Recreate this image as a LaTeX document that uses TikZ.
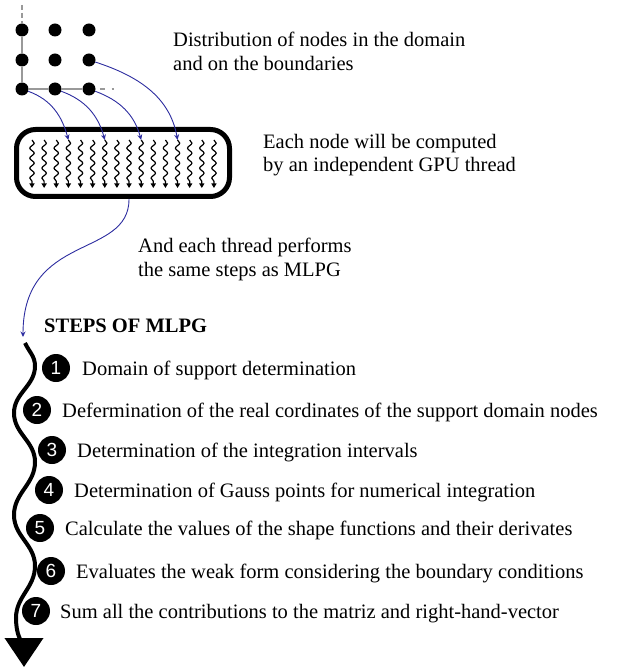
\documentclass[tikz,border=0pt]{standalone}
\usepackage{fontspec}
\setmainfont{Liberation Serif}
\newfontfamily\numfont{Liberation Sans}
\usetikzlibrary{arrows.meta, decorations.pathmorphing, positioning}
\definecolor{linkblue}{RGB}{45,45,160}

\begin{document}
\begin{tikzpicture}[x=1pt, y=1pt, >={Stealth[length=5.5pt,width=5pt]}]
\tikzstyle{grid dot}=[circle, fill=black, inner sep=0pt, minimum size=13pt];
\tikzstyle{grid line}=[draw=black!40, line width=2.5pt];
\tikzstyle{link}=[->, draw=linkblue, fill=none, line width=0.9pt];
\tikzstyle{thread}=[line width=1.2pt, decorate, decoration={snake, amplitude=2.2pt, segment length=10pt, post length=5pt}, -{Triangle[length=4.5pt,width=5pt]}];
\tikzstyle{flow}=[line width=4pt, -{Triangle[length=29pt,width=38pt]}];
\tikzstyle{note}=[anchor=north west, inner sep=0pt, align=left, font=\fontsize{20.5}{23.5}\selectfont];
\tikzstyle{stepnum}=[circle, fill=black, text=white, inner sep=0pt, minimum size=28pt, font=\numfont\fontsize{19}{19}\selectfont];
\tikzstyle{steptext}=[anchor=base west, inner sep=0pt, font=\fontsize{20.5}{24}\selectfont];
\useasboundingbox (0,0) rectangle (617,-668);

% nodes of the domain
\node[grid dot] (d11) at (22,-30) {};
\node[grid dot] (d12) at (55,-30) {};
\node[grid dot] (d13) at (89,-30) {};
\node[grid dot] (d21) at (22,-60) {};
\node[grid dot] (d22) at (55,-60) {};
\node[grid dot] (d23) at (89,-60) {};
\node[grid dot] (d31) at (22,-89) {};
\node[grid dot] (d32) at (55,-89) {};
\node[grid dot] (d33) at (89,-89) {};
\coordinate (ytop) at (22,-5);
\coordinate (xend) at (114,-89);
\draw[grid line, dash pattern=on 5pt off 3pt] (ytop) -- (d11);
\draw[grid line] (d11) -- (d21) -- (d31) -- (d32) -- (d33);
\draw[grid line, dash pattern=on 0pt off 4pt on 5pt off 3pt] (d33) -- (xend);

% GPU threads
\node[draw, line width=5pt, rounded corners=19pt, minimum width=213pt, minimum height=67pt] (gpu) at (123,-163) {};
\foreach \i in {0,...,15} {
  \coordinate (th\i) at ({32+\i*12.13},-140);
  \coordinate (tb\i) at ({32+\i*12.13},-188);
  \draw[thread] (th\i) -- (tb\i);
}

\draw[link] (d31) to[out=-20, in=105] (th3);
\draw[link] (d32) to[out=-20, in=105] (th6);
\draw[link] (d33) to[out=-20, in=105] (th9);
\draw[link] (d23) to[out=-18, in=100] (th12);

\node[note] (distxt) at (173,-32) {Distribution of nodes in the domain\\and on the boundaries};
\node[note] (gputxt) at (263,-134) {Each node will be computed\\by an independent GPU thread};
\node[note] (sametxt) at (138,-238) {And each thread performs\\the same steps as MLPG};

% steps of MLPG
\coordinate (flowin) at (23,-337);
\coordinate (flowtop) at (25,-343);
\draw[link] (gpu.south -| tb8) .. controls +(0,-60) and +(0,105) .. (flowin);
\node[steptext, font=\fontsize{20.5}{24}\selectfont\bfseries] (title) at (44,-332) {STEPS OF MLPG};
\draw[flow] (flowtop) to[out=-65,in=90] (35,-366) to[out=-90,in=90] (14,-413)
  to[out=-90,in=90] (35,-462) to[out=-90,in=90] (14,-515)
  to[out=-90,in=90] (35,-566) to[out=-90,in=90] (16,-618)
  to[out=-90,in=90] (24,-667);

\node[stepnum] (n1) at (56,-368) {1};
\node[stepnum] (n2) at (37,-410) {2};
\node[stepnum] (n3) at (52,-450) {3};
\node[stepnum] (n4) at (49,-490) {4};
\node[stepnum] (n5) at (40,-528) {5};
\node[stepnum] (n6) at (51,-571) {6};
\node[stepnum] (n7) at (36,-611) {7};
\node[steptext] (s1) at (82,-375) {Domain of support determination};
\node[steptext] (s2) at (62,-417) {Defermination of the real cordinates of the support domain nodes};
\node[steptext] (s3) at (77,-457) {Determination of the integration intervals};
\node[steptext] (s4) at (74,-497) {Determination of Gauss points for numerical integration};
\node[steptext] (s5) at (65,-535) {Calculate the values of the shape functions and their derivates};
\node[steptext] (s6) at (76,-578) {Evaluates the weak form considering the boundary conditions};
\node[steptext] (s7) at (60,-618) {Sum all the contributions to the matriz and right-hand-vector};
\end{tikzpicture}
\end{document}
